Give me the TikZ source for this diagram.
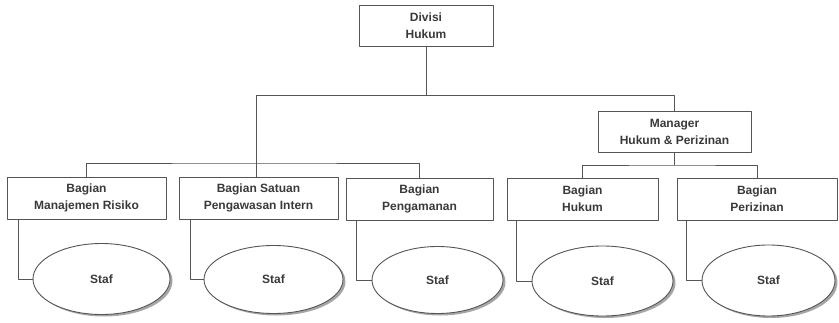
\documentclass[tikz,border=0pt]{standalone}
\usepackage{fontspec}
\setmainfont{Liberation Sans}
\usetikzlibrary{shapes.geometric,shadows}
\definecolor{inkgray}{HTML}{3A3A3A}
\definecolor{linegray}{HTML}{555555}
\tikzset{
  kotak/.style={draw=linegray, line width=0.9pt, fill=white, align=center, inner sep=0pt,
    font=\fontsize{12}{17}\selectfont\bfseries, text=inkgray},
  staf/.style={ellipse, draw=linegray, line width=0.9pt, fill=white, inner sep=0pt,
    font=\fontsize{12}{14}\selectfont\bfseries, text=inkgray,
    drop shadow={shadow xshift=2.5pt, shadow yshift=-2pt, fill=gray!70, opacity=1}},
  garis/.style={draw=linegray, line width=0.9pt}
}
\begin{document}
\begin{tikzpicture}[x=1pt, y=-1pt, line join=round]
  \useasboundingbox (0,0) rectangle (839,322);
  % Pimpinan
  \node[kotak, minimum width=134pt, minimum height=41pt] (div) at (426,26) {Divisi\\Hukum};
  \node[kotak, minimum width=153pt, minimum height=41pt] (mgr) at (674.5,131.5) {Manager\\Hukum \& Perizinan};
  % Bagian
  \node[kotak, minimum width=159pt, minimum height=42pt] (b1) at (86.5,198) {Bagian\\Manajemen Risiko};
  \node[kotak, minimum width=159pt, minimum height=42pt] (b2) at (258.5,198) {Bagian Satuan\\Pengawasan Intern};
  \node[kotak, minimum width=147pt, minimum height=42pt] (b3) at (419.5,199) {Bagian\\Pengamanan};
  \node[kotak, minimum width=151pt, minimum height=42pt] (b4) at (582.5,199) {Bagian\\Hukum};
  \node[kotak, minimum width=160pt, minimum height=42pt] (b5) at (757,199) {Bagian\\Perizinan};
  % Staf
  \node[staf, minimum width=137pt, minimum height=71pt] (e1) at (101.5,279) {Staf};
  \node[staf, minimum width=139pt, minimum height=68pt] (e2) at (273.5,279.5) {Staf};
  \node[staf, minimum width=131pt, minimum height=67pt] (e3) at (437.5,280) {Staf};
  \node[staf, minimum width=141pt, minimum height=70pt] (e4) at (602.5,281) {Staf};
  \node[staf, minimum width=133pt, minimum height=71pt] (e5) at (768.5,280.5) {Staf};
  % Garis
  \coordinate (h1) at (256,95.5);
  \coordinate (h2) at (256,163);
  \coordinate (h3) at (674.5,165);
  \draw[garis] (div.south) -- (div.south |- h1);
  \draw[garis] (b2.north -| h1) -- (h1) -| (mgr.north);
  \draw[garis] (b1.north) |- (h2) -| (b3.north);
  \draw[garis] (mgr.south) -- (h3);
  \draw[garis] (b4.north) |- (h3) -| (b5.north);
  \draw[garis] ([xshift=12pt]b1.south west) |- (e1.west);
  \draw[garis] ([xshift=12pt]b2.south west) |- (e2.west);
  \draw[garis] ([xshift=11pt]b3.south west) |- (e3.west);
  \draw[garis] ([xshift=10pt]b4.south west) |- (e4.west);
  \draw[garis] ([xshift=10pt]b5.south west) |- (e5.west);
\end{tikzpicture}
\end{document}
